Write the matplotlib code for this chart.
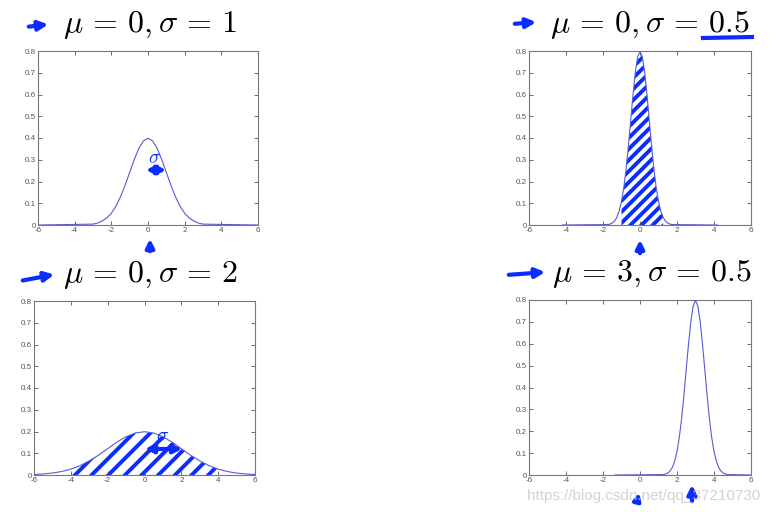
import numpy as np
import matplotlib.pyplot as plt
from matplotlib.patches import FancyArrowPatch

plt.rcParams['mathtext.fontset'] = 'cm'
plt.rcParams['hatch.linewidth'] = 2.8
plt.rcParams['axes.unicode_minus'] = False

# normal pdf shapes (half curves, mirrored around the mean)
half_x_s1 = [0, 0.25, 0.5, 0.75, 1.0, 1.25, 1.5, 1.75, 2.0, 2.25, 2.5, 2.75, 3.0]
half_y_s1 = [0.399, 0.387, 0.352, 0.301, 0.242, 0.183, 0.130, 0.086, 0.054, 0.032, 0.018, 0.009, 0.004]

half_x_s05 = [0, 0.125, 0.25, 0.375, 0.5, 0.625, 0.75, 0.875, 1.0, 1.125, 1.25, 1.375, 1.5, 1.625, 1.75]
half_y_s05 = [0.798, 0.773, 0.704, 0.601, 0.484, 0.365, 0.259, 0.172, 0.108, 0.064, 0.035, 0.018, 0.009, 0.004, 0.002]

half_x_s2 = [0, 0.5, 1.0, 1.5, 2.0, 2.5, 3.0, 3.5, 4.0, 4.5, 5.0, 5.5, 6.0]
half_y_s2 = [0.199, 0.193, 0.176, 0.151, 0.121, 0.091, 0.065, 0.043, 0.027, 0.016, 0.009, 0.005, 0.002]

titles = [r'$\mu\,=\,0,\sigma\,=\,1$', r'$\mu\,=\,0,\sigma\,=\,0.5$',
          r'$\mu\,=\,0,\sigma\,=\,2$', r'$\mu\,=\,3,\sigma\,=\,0.5$']
means = [0, 0, 0, 3]
x_ranges = [(-6, 6), (-4.2, 4.2), (-6, 6), (-1.35, 6)]
shade_ranges = [None, (-1.1, 1.35), (-4.3, 4.2), None]
hatches = [None, '///', '//', None]

xticks = [-6, -4, -2, 0, 2, 4, 6]
yticks = [0, 0.1, 0.2, 0.3, 0.4, 0.5, 0.6, 0.7, 0.8]
ylabels = ['0', '0.1', '0.2', '0.3', '0.4', '0.5', '0.6', '0.7', '0.8']

W, H = 780, 512
fig = plt.figure(figsize=(7.8, 5.12), dpi=100)


def px(x, y):
    return x / W, 1 - y / H


def curve(hx, hy, mu, lo, hi):
    hx = np.array(hx)
    hy = np.array(hy)
    x = np.r_[mu - hx[::-1], mu + hx[1:]]
    y = np.r_[hy[::-1], hy[1:]]
    x = np.r_[lo, x, hi]
    y = np.r_[0, y, 0]
    keep = (x >= lo) & (x <= hi)
    return x[keep], y[keep]


boxes = [(38, 258, 51, 225), (529, 751, 51, 225), (34, 255, 301, 475), (529, 751, 300, 475)]
shapes = [(half_x_s1, half_y_s1), (half_x_s05, half_y_s05),
          (half_x_s2, half_y_s2), (half_x_s05, half_y_s05)]
line_col = '#5a5ad2'
pen = '#0a2cff'

for i, (l, r, t, b) in enumerate(boxes):
    ax = fig.add_axes([l / W, 1 - b / H, (r - l) / W, (b - t) / H])
    hx, hy = shapes[i]
    x, y = curve(hx, hy, means[i], *x_ranges[i])
    ax.plot(x, y, color=line_col, lw=0.8)
    if shade_ranges[i] is not None:
        lo, hi = shade_ranges[i]
        m = (x >= lo) & (x <= hi)
        ax.fill_between(x[m], 0, y[m], facecolor='none', edgecolor=pen,
                        hatch=hatches[i], lw=0)
    ax.set_xlim(-6, 6)
    ax.set_ylim(0, 0.8)
    ax.set_xticks(xticks)
    ax.set_yticks(yticks)
    ax.set_yticklabels(ylabels)
    ax.tick_params(direction='in', length=3, width=0.6, labelsize=5.8,
                   colors='#555555', top=True, right=True, pad=1.5)
    for lab in ax.get_xticklabels() + ax.get_yticklabels():
        lab.set_family('Liberation Sans')
    for s in ax.spines.values():
        s.set_color('#777777')
        s.set_linewidth(0.8)

# slide titles
title_pos = [(63, 32), (550, 32), (63, 282), (552, 281)]
for (tx, ty), s in zip(title_pos, titles):
    fig.text(*px(tx, ty), s, fontsize=23, va='baseline', ha='left')

# hand-drawn pen marks
arrows = [((26, 27), (51, 24), '-|>', 14), ((512, 24), (539, 22), '-|>', 14),
          ((20, 281), (57, 274), '-|>', 14), ((506, 275), (548, 272), '-|>', 14),
          ((150, 254), (150, 236), '-|>', 12), ((640, 256), (640, 237), '-|>', 12),
          ((636, 505), (640, 490), '-|>', 10), ((692, 504), (692, 482), '-|>', 13),
          ((143, 170), (169, 170), '<|-|>', 12), ((142, 449), (185, 449), '<|-|>', 12)]
for p0, p1, st, ms in arrows:
    fig.add_artist(FancyArrowPatch(px(*p0), px(*p1), arrowstyle=st,
                                   mutation_scale=ms, color=pen, lw=3,
                                   transform=fig.transFigure))
fig.add_artist(plt.Line2D([703 / W, 752 / W], [1 - 38 / H, 1 - 37 / H],
                          color=pen, lw=3, transform=fig.transFigure))
fig.text(*px(148, 163), r'$\sigma$', color=pen, fontsize=14, fontweight='bold')
fig.text(*px(156, 441), r'$\sigma$', color=pen, fontsize=14, fontweight='bold')

# watermark
fig.text(*px(527, 500), 'https://blog.csdn.net/qq_37210730', color='#c8c8c8',
         fontsize=11, family='Liberation Sans', alpha=0.8, va='baseline')

plt.savefig('out.png', dpi=100)
